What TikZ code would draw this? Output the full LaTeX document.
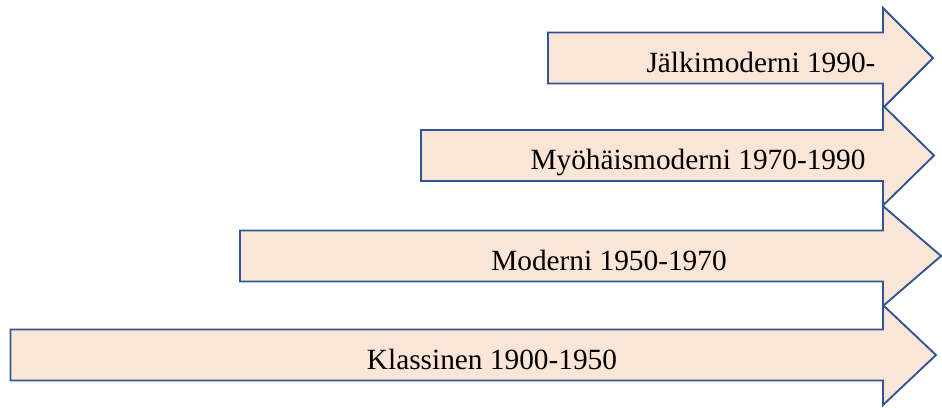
\documentclass[tikz,border=0pt]{standalone}
\usepackage{fontspec}
\setmainfont{Liberation Serif}
\definecolor{arrowfill}{HTML}{FBE5D6}
\definecolor{arrowline}{HTML}{2F5597}
\tikzset{
  period/.style={draw=arrowline, fill=arrowfill, line width=1.4pt, line join=miter},
  periodtext/.style={font=\fontsize{22}{24}\selectfont, anchor=base, inner sep=0pt}
}
% block arrow: left edge x, centre line y, tip x (head base fixed at x=883)
\newcommand\periodarrow[3]{%
  \draw[period] (#1,#2-25.5) -- (883,#2-25.5) -- (883,#2-50) -- (#3,#2)
    -- (883,#2+50) -- (883,#2+25.5) -- (#1,#2+25.5) -- cycle;}
\begin{document}
\begin{tikzpicture}[x=0.75pt, y=-0.75pt]
  \useasboundingbox (0,0) rectangle (942,407);
  \periodarrow{548}{58}{933}
  \periodarrow{421}{155.5}{934}
  \periodarrow{240}{256}{941}
  \periodarrow{10.5}{355}{936}
  \node[periodtext] (jalki)   at (761,72)  {Jälkimoderni 1990-};
  \node[periodtext] (myohais) at (698,169) {Myöhäismoderni 1970-1990};
  \node[periodtext] (moderni) at (609,270) {Moderni 1950-1970};
  \node[periodtext] (klass)   at (492,369) {Klassinen 1900-1950};
\end{tikzpicture}
\end{document}
